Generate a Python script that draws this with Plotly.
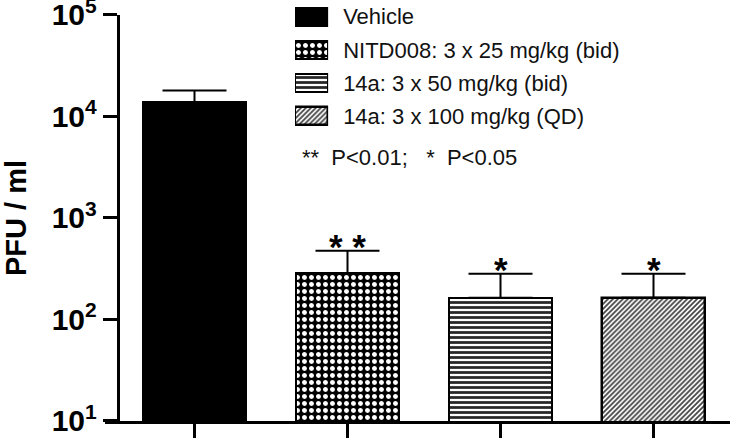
import numpy as np
import plotly.graph_objects as go

# groups, mean titres (PFU/ml) and the top of each error bar
groups = ["Vehicle", "NITD008: 3 x 25 mg/kg (bid)", "14a: 3 x 50 mg/kg (bid)", "14a: 3 x 100 mg/kg (QD)"]
pfu = [13800, 287, 164, 164]
err_top = [18000, 475, 282, 282]
stars = ["", "* *", "*", "*"]

y_tickvals = [10, 100, 1000, 10000, 100000]
y_ticktext = ["10<sup>1</sup>", "10<sup>2</sup>", "10<sup>3</sup>", "10<sup>4</sup>", "10<sup>5</sup>"]

FONT = "Liberation Sans, Arial, Helvetica, sans-serif"

# fill for each group (solid, dots, bricks, diagonal hatch)
fills = [
    dict(color="black", line=dict(color="black", width=2)),
    dict(color="black", line=dict(color="black", width=2),
         pattern=dict(shape=".", fgcolor="white", bgcolor="black", size=7, solidity=0.4)),
    dict(color="white", line=dict(color="black", width=2),
         pattern=dict(shape="-", fgcolor="#262626", bgcolor="white", size=5, solidity=0.55)),
    dict(color="white", line=dict(color="black", width=2.5),
         pattern=dict(shape="/", fgcolor="#444444", bgcolor="white", size=3.5, solidity=0.5)),
]

fig = go.Figure()

for i, g in enumerate(groups):
    fig.add_trace(go.Bar(
        x=[g], y=[pfu[i]], width=0.67,
        marker=fills[i],
        error_y=dict(type="data", symmetric=False,
                     array=[err_top[i] - pfu[i]], arrayminus=[0],
                     color="black", thickness=2, width=32),
        showlegend=False,
    ))
    # legend swatch drawn on a small helper axis
    fig.add_trace(go.Bar(
        x=[1], y=[g], orientation="h", width=0.54,
        marker=fills[i], xaxis="x2", yaxis="y2",
        showlegend=False, hoverinfo="skip",
    ))

# significance stars above the error bars
for i, s in enumerate(stars):
    if s:
        fig.add_annotation(x=groups[i], y=np.log10(err_top[i]), text=s,
                           showarrow=False, yanchor="bottom", yshift=-17,
                           font=dict(family=FONT, size=35, color="black", weight="bold"))

fig.add_annotation(x=0.312, y=0.627, xref="paper", yref="paper",
                   text="**  P<0.01;   *  P<0.05", showarrow=False,
                   xanchor="left", yanchor="middle",
                   font=dict(family=FONT, size=22, color="#111111"))

fig.update_layout(
    width=730, height=438,
    template="none",
    margin=dict(l=105, r=0, t=0, b=17),
    paper_bgcolor="white", plot_bgcolor="white",
    font=dict(family=FONT, color="black"),
    showlegend=False,
    bargap=0,
    xaxis=dict(domain=[0, 1], range=[-0.585, 3.5], showticklabels=False,
               ticks="outside", ticklen=16, tickwidth=2.5, tickcolor="black",
               showline=True, linewidth=2.5, linecolor="black",
               showgrid=False, zeroline=False, automargin=False),
    yaxis=dict(type="log", range=[0.99999, 5.00001], domain=[0, 0.9644],
               anchor="free", position=0.02,
               tickvals=y_tickvals, ticktext=y_ticktext,
               tickfont=dict(family=FONT, size=30, weight="bold"),
               ticklabeloverflow="allow",
               ticks="outside", ticklen=14, tickwidth=2.5, tickcolor="black",
               showline=True, linewidth=2.5, linecolor="black",
               showgrid=False, zeroline=False, automargin=False,
               title=dict(text="PFU / ml", standoff=32,
                          font=dict(family=FONT, size=29, weight="bold"))),
    xaxis2=dict(domain=[0.304, 0.357], range=[0, 1], anchor="y2", visible=False),
    yaxis2=dict(domain=[0.684, 1.0], anchor="x2", type="category",
                categoryorder="array", categoryarray=groups, range=[3.5, -0.5],
                side="right", ticks="", showline=False, showgrid=False,
                zeroline=False, ticklabelstandoff=14, automargin=False,
                tickfont=dict(family=FONT, size=22, color="#111111")),
)

# drop the page's default body margin so the figure sits at the window's corner
fig.write_html("out.html", config={"displayModeBar": False},
               post_script="document.body.style.margin = '0';")
